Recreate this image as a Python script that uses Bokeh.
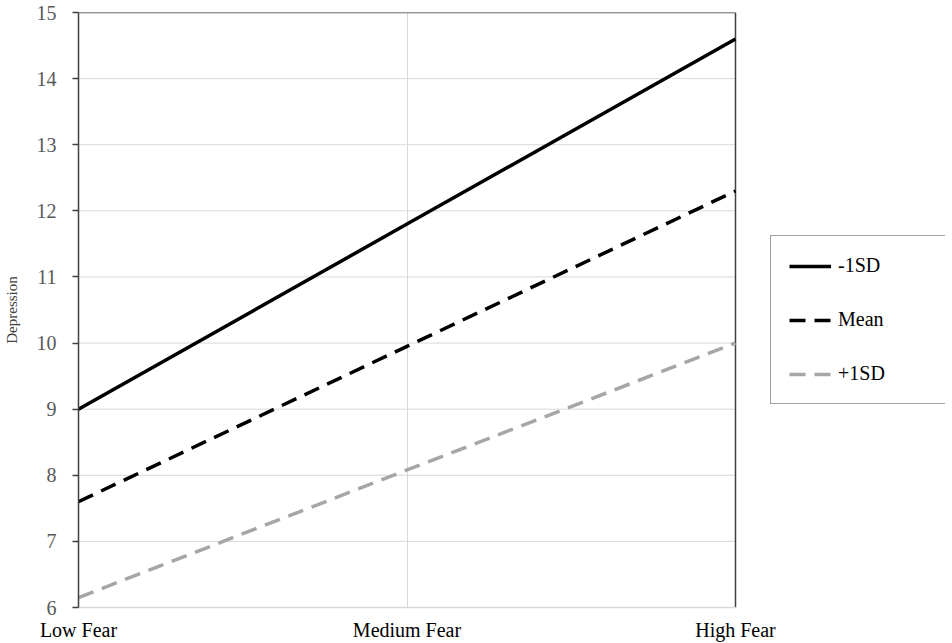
from bokeh.plotting import figure
from bokeh.models import Legend, LegendItem, FixedTicker, Range1d
from bokeh.embed import file_html
from bokeh.resources import INLINE

categories = ["Low Fear", "Medium Fear", "High Fear"]
x_pos = [0, 1, 2]
minus_1sd = [9.0, 11.8, 14.6]
mean_vals = [7.6, 9.95, 12.3]
plus_1sd = [6.15, 8.08, 10.0]
y_ticks = [6, 7, 8, 9, 10, 11, 12, 13, 14, 15]

FONT = "Liberation Serif"

# frame spans the plot area plus the legend area to the right;
# the data region (0..2) occupies the left part of the frame
X_EXTRA = 2 * (945 - 78) / (735 - 78)

p = figure(width=952, height=643, output_backend="svg", toolbar_location=None,
           x_range=Range1d(0, X_EXTRA), y_range=Range1d(6, 15),
           min_border_left=78, min_border_top=12, min_border_bottom=30, min_border_right=7)
p.outline_line_color = None
p.background_fill_color = "white"
p.border_fill_color = "white"

# grid: horizontal lines limited to the data region
p.ygrid.visible = False
p.segment(x0=[x_pos[0]] * len(y_ticks), x1=[x_pos[-1]] * len(y_ticks),
          y0=y_ticks, y1=y_ticks, line_color="#d9d9d9", line_width=1)
p.xgrid.ticker = FixedTicker(ticks=[x_pos[1]])
p.xgrid.grid_line_color = "#d9d9d9"
p.xgrid.grid_line_width = 1

# top / right frame borders
p.segment(x0=[x_pos[0], x_pos[-1]], x1=[x_pos[-1], x_pos[-1]],
          y0=[y_ticks[-1], y_ticks[0]], y1=[y_ticks[-1], y_ticks[-1]],
          line_color="#404040", line_width=1.5)

# y axis
p.yaxis.ticker = FixedTicker(ticks=y_ticks)
p.yaxis.axis_line_color = "#404040"
p.yaxis.axis_line_width = 1.5
p.yaxis.major_tick_line_color = "#404040"
p.yaxis.major_tick_line_width = 1.5
p.yaxis.major_tick_out = 6
p.yaxis.major_tick_in = 0
p.yaxis.minor_tick_line_color = None
p.yaxis.major_label_text_font = FONT
p.yaxis.major_label_text_font_size = "20px"
p.yaxis.major_label_text_color = "#595959"
p.yaxis.major_label_standoff = 16
p.yaxis.axis_label = "Depression"
p.yaxis.axis_label_text_font = FONT
p.yaxis.axis_label_text_font_size = "15px"
p.yaxis.axis_label_text_font_style = "normal"
p.yaxis.axis_label_text_color = "#404040"
p.yaxis.axis_label_standoff = 14

# x axis
p.xaxis.ticker = FixedTicker(ticks=x_pos)
p.xaxis.bounds = (x_pos[0], x_pos[-1])
p.xaxis.major_label_overrides = {x: c for x, c in zip(x_pos, categories)}
p.xaxis.axis_line_color = "#d9d9d9"
p.xaxis.axis_line_width = 1.5
p.xaxis.major_tick_line_color = None
p.xaxis.minor_tick_line_color = None
p.xaxis.major_label_text_font = FONT
p.xaxis.major_label_text_font_size = "20px"
p.xaxis.major_label_text_color = "black"
p.xaxis.major_label_standoff = 5

r1 = p.line(x_pos, minus_1sd, line_color="black", line_width=3.5)
r2 = p.line(x_pos, mean_vals, line_color="black", line_width=3.5, line_dash="16 9")
r3 = p.line(x_pos, plus_1sd, line_color="#a6a6a6", line_width=3.5, line_dash="16 9")

legend = Legend(items=[LegendItem(label="-1SD", renderers=[r1]),
                       LegendItem(label="Mean", renderers=[r2]),
                       LegendItem(label="+1SD", renderers=[r3])],
                location=(692, 203),
                label_text_font="'Liberation Serif', serif", label_text_font_size="20px",
                label_text_color="black",
                border_line_color="#404040", border_line_width=1.5,
                padding=18, spacing=31, glyph_width=42, glyph_height=20,
                label_height=20, label_width=90, label_standoff=7,
                margin=0,
                background_fill_color="white", background_fill_alpha=1)
p.add_layout(legend, "center")

open("out.html", "w").write(file_html(p, INLINE))
